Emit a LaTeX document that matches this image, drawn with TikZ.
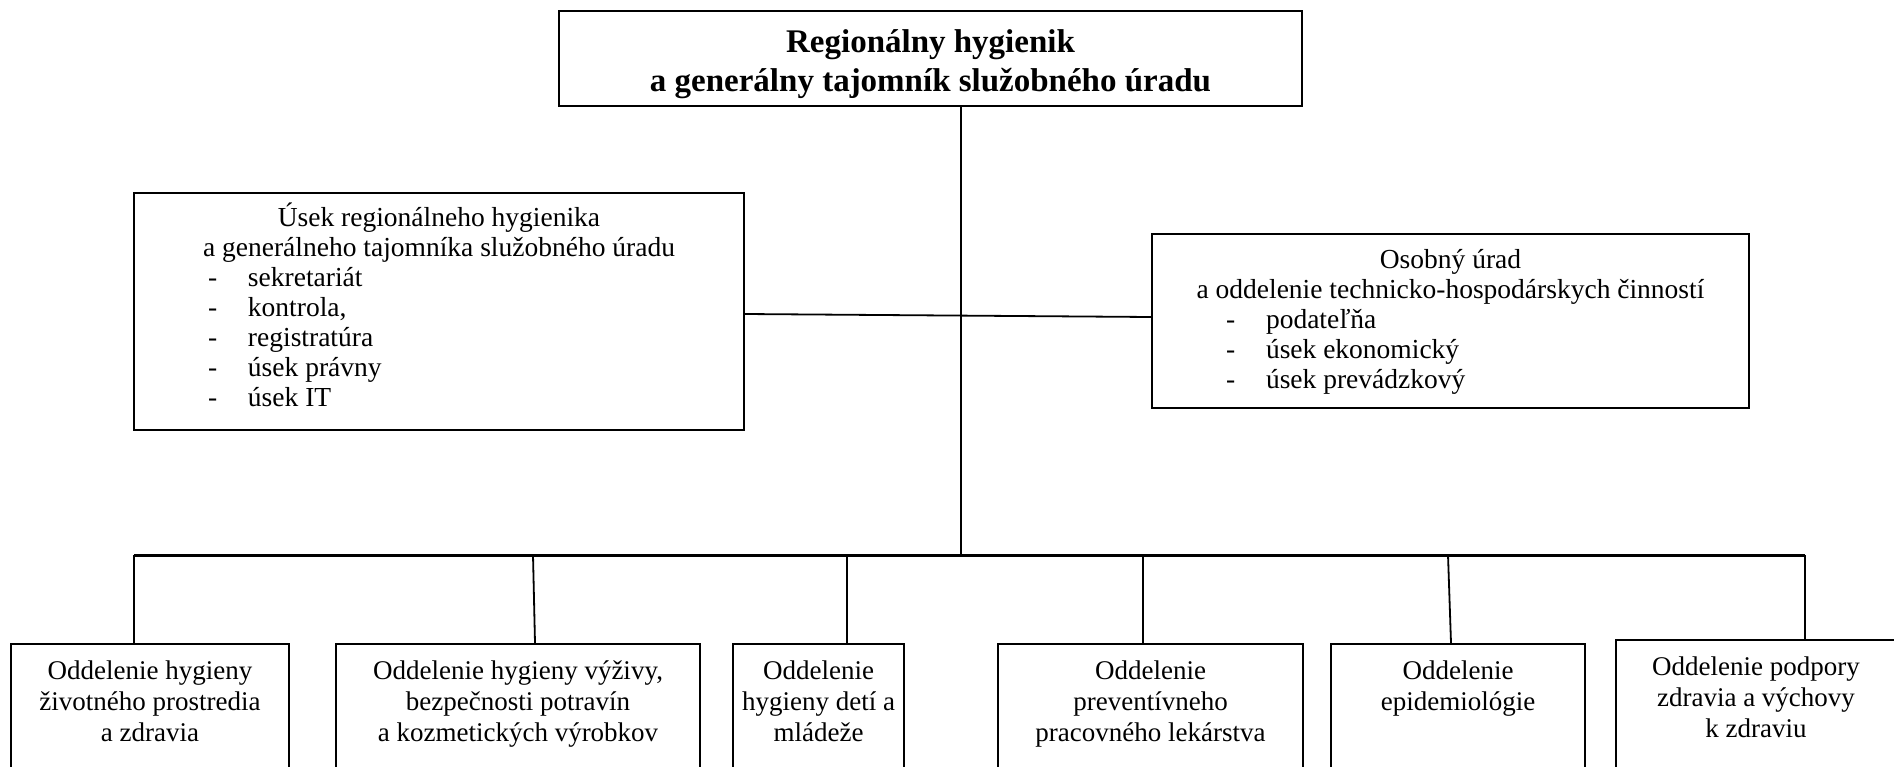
\documentclass[tikz,border=0pt]{standalone}
\usepackage{fontspec}
\setmainfont{Liberation Serif}
\usetikzlibrary{positioning}
\definecolor{border}{HTML}{000000}
\tikzset{
  mainbox/.style={
    rectangle, draw=border, fill=white, line width=2pt,
    inner sep=0pt, font=\fontsize{27}{31}\selectfont,
  },
  headbox/.style={
    mainbox, line width=2.6pt,
    font=\fontsize{33}{39}\selectfont\bfseries,
  },
  unitbox/.style={mainbox, font=\fontsize{27.5}{30}\selectfont},
  deptbox/.style={mainbox, anchor=north},
  link/.style={draw=border, line width=1.8pt},
  bus/.style={draw=border, line width=3pt},
}
% width, height, first baseline, text
\newcommand{\boxbody}[4]{\begin{minipage}[t][#2][t]{#1}\centering\rule{0pt}{#3}#4\end{minipage}}
\newcommand{\dashitem}[1]{\hspace*{74pt}\makebox[40pt][l]{-}#1}

\begin{document}
\begin{tikzpicture}[x=1pt, y=-1pt]
  \path[use as bounding box, clip] (0,0) rectangle (1894,766);

  % head
  \node[headbox] (head) at (930.5,58.5) {\boxbody{743pt}{95pt}{41pt}{Regionálny hygienik\\a generálny tajomník služobného úradu}};

  % middle row
  \node[unitbox] (sect) at (439,311.5) {\boxbody{610pt}{237pt}{33pt}{%
    Úsek regionálneho hygienika\\a generálneho tajomníka služobného úradu\par\raggedright
    \dashitem{sekretariát}\\\dashitem{kontrola,}\\\dashitem{registratúra}\\\dashitem{úsek právny}\\\dashitem{úsek IT}}};
  \node[unitbox] (staff) at (1450.5,321) {\boxbody{597pt}{174pt}{34pt}{%
    Osobný úrad\\a oddelenie technicko-hospodárskych činností\par\raggedright
    \dashitem{podateľňa}\\\dashitem{úsek ekonomický}\\\dashitem{úsek prevádzkový}}};

  % departments
  \node[deptbox] (d1) at (150,643) {\boxbody{278pt}{150pt}{35pt}{Oddelenie hygieny\\životného prostredia\\a zdravia}};
  \node[deptbox] (d2) at (518,643) {\boxbody{364pt}{150pt}{35pt}{Oddelenie hygieny výživy,\\bezpečnosti potravín\\a kozmetických výrobkov}};
  \node[deptbox] (d3) at (818.5,643) {\boxbody{171pt}{150pt}{35pt}{Oddelenie\\hygieny detí a\\mládeže}};
  \node[deptbox] (d4) at (1150.5,643) {\boxbody{305pt}{150pt}{35pt}{Oddelenie\\preventívneho\\pracovného lekárstva}};
  \node[deptbox] (d5) at (1458,643) {\boxbody{254pt}{150pt}{35pt}{Oddelenie\\epidemiológie}};
  \node[deptbox] (d6) at (1756,639) {\boxbody{280pt}{150pt}{35pt}{Oddelenie podpory\\zdravia a výchovy\\k zdraviu}};

  % connectors
  \coordinate (jtop) at (961,555);
  \coordinate (j1) at (134,555);
  \coordinate (j2) at (533,555);
  \coordinate (j3) at (847,555);
  \coordinate (j4) at (1143,555);
  \coordinate (j5) at (1448,555);
  \coordinate (j6) at (1805,555);

  \draw[link] (jtop |- head.south) -- (jtop);
  \draw[link] ([yshift=-2.5pt]sect.east) -- ([yshift=4pt]staff.west);
  \draw[bus] (j1) -- (j6);
  \foreach \i/\s in {1/0,2/2,3/0,4/0,5/3,6/0}
    \draw[link] (j\i) -- ([xshift=\s pt]j\i |- d\i.north);

\end{tikzpicture}
\end{document}
